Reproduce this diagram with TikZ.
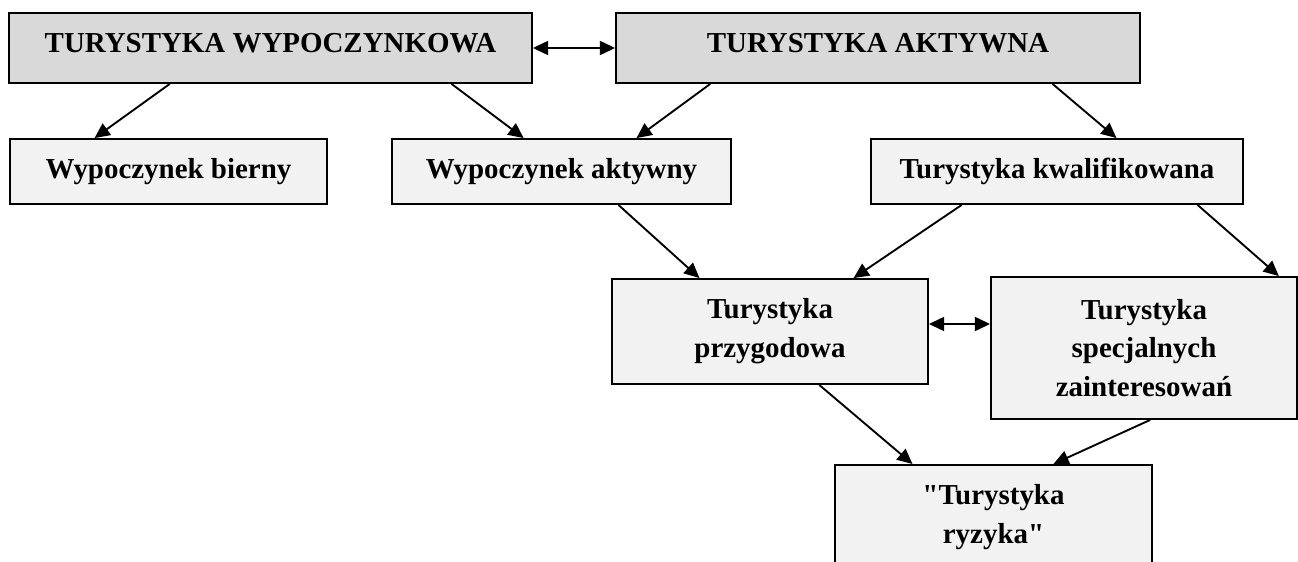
\documentclass[tikz,border=0pt]{standalone}
\usepackage{fontspec}
\setmainfont{Liberation Serif}[Ligatures=TeXOff]
\usetikzlibrary{arrows.meta,calc}

\definecolor{topgray}{RGB}{217,217,217}
\definecolor{boxgray}{RGB}{242,242,242}

\begin{document}
\begin{tikzpicture}[
    y=-1cm,
    box/.style={rectangle, draw, line width=1.6pt, fill=boxgray, align=center, inner sep=0pt,
                font=\fontsize{24.7}{33.2}\selectfont\bfseries},
    topbox/.style={box, fill=topgray, text depth=0.3cm},
    arrow/.style={-{Triangle[length=13pt, width=12pt]}, line width=1.6pt},
    both/.style={{Triangle[length=13pt, width=12pt]}-{Triangle[length=13pt, width=12pt]}, line width=1.6pt}
]
\clip (0,0) rectangle (38.94,16.86);

% Main kinds
\node[topbox, minimum width=15.69cm, minimum height=2.1cm] (tw) at (8.115,1.44) {TURYSTYKA WYPOCZYNKOWA};
\node[topbox, minimum width=15.72cm, minimum height=2.1cm] (ta) at (26.34,1.44) {TURYSTYKA AKTYWNA};

% Second row
\node[box, minimum width=9.51cm, minimum height=1.95cm] (wb) at (5.055,5.145) {Wypoczynek bierny};
\node[box, minimum width=10.17cm, minimum height=1.95cm] (wa) at (16.845,5.145) {Wypoczynek aktywny};
\node[box, minimum width=11.16cm, minimum height=1.95cm] (tk) at (31.71,5.145) {Turystyka kwalifikowana};

% Third row
\node[box, minimum width=9.48cm, minimum height=3.15cm] (tp) at (23.1,9.945) {Turystyka\\przygodowa};
\node[box, minimum width=9.18cm, minimum height=4.26cm] (tsz) at (34.32,10.44) {Turystyka\\specjalnych\\zainteresowań};

% Bottom
\node[box, anchor=north, minimum width=9.51cm, minimum height=3.15cm] (tr) at (29.805,13.92) {"Turystyka\\ryzyka"};

% Connections
\draw[both] (tw.east) -- (ta.west);
\draw[arrow] ($(tw.south west)!0.308!(tw.south east)$) -- ($(wb.north west)!0.268!(wb.north east)$);
\draw[arrow] ($(tw.south west)!0.845!(tw.south east)$) -- ($(wa.north west)!0.389!(wa.north east)$);
\draw[arrow] ($(ta.south west)!0.181!(ta.south east)$) -- ($(wa.north west)!0.72!(wa.north east)$);
\draw[arrow] ($(ta.south west)!0.832!(ta.south east)$) -- ($(tk.north west)!0.659!(tk.north east)$);
\draw[arrow] ($(wa.south west)!0.667!(wa.south east)$) -- ($(tp.north west)!0.278!(tp.north east)$);
\draw[arrow] ($(tk.south west)!0.245!(tk.south east)$) -- ($(tp.north west)!0.763!(tp.north east)$);
\draw[arrow] ($(tk.south west)!0.876!(tk.south east)$) -- ($(tsz.north west)!0.938!(tsz.north east)$);
\coordinate (pm) at ($(tp.east)+(0,-0.225)$);
\draw[both] (pm) -- (pm -| tsz.west);
\draw[arrow] ($(tp.south west)!0.655!(tp.south east)$) -- ($(tr.north west)!0.246!(tr.north east)$);
\draw[arrow] ($(tsz.south west)!0.52!(tsz.south east)$) -- ($(tr.north west)!0.688!(tr.north east)$);

\end{tikzpicture}
\end{document}
